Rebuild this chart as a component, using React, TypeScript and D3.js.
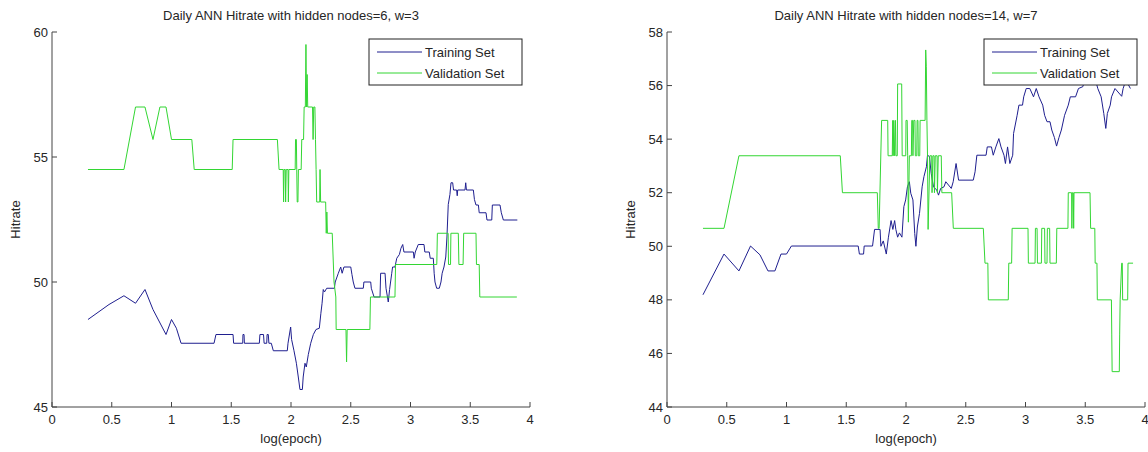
import React from "react";
import * as d3 from "d3";

type Pt = [number, number];

// ---------- Data (x = log(epoch), y = Hitrate) ----------
const xTicks = [0, 0.5, 1, 1.5, 2, 2.5, 3, 3.5, 4];
const leftYTicks = [45, 50, 55, 60];
const rightYTicks = [44, 46, 48, 50, 52, 54, 56, 58];
const seriesNames = ["Training Set", "Validation Set"];
const titles = [
  "Daily ANN Hitrate with hidden nodes=6, w=3",
  "Daily ANN Hitrate with hidden nodes=14, w=7",
];

const leftTraining: Pt[] = [
  [0.301, 48.5], [0.477, 49.1], [0.602, 49.45], [0.699, 49.15], [0.778, 49.7], [0.845, 48.9],
  [0.954, 47.9], [1.0, 48.5], [1.041, 48.15], [1.08, 47.55], [1.356, 47.55], [1.372, 47.9],
  [1.515, 47.9], [1.52, 47.55], [1.596, 47.55], [1.598, 47.9], [1.607, 47.9], [1.61, 47.55],
  [1.735, 47.55], [1.74, 47.9], [1.77, 47.9], [1.775, 47.55], [1.797, 47.55], [1.8, 47.9],
  [1.81, 47.9], [1.815, 47.55], [1.835, 47.55], [1.852, 47.25], [1.969, 47.25], [1.975, 47.55],
  [1.997, 48.2], [2.005, 47.7], [2.025, 47.25], [2.045, 46.75], [2.061, 46.2], [2.075, 45.7],
  [2.095, 45.7], [2.102, 46.2], [2.117, 46.75], [2.128, 46.6], [2.145, 47.1], [2.165, 47.55],
  [2.187, 47.9], [2.209, 48.1], [2.237, 48.15], [2.25, 48.75], [2.26, 49.15], [2.27, 49.7],
  [2.28, 49.6], [2.299, 49.75], [2.363, 49.75], [2.37, 50.0], [2.396, 50.35], [2.416, 50.6],
  [2.428, 50.35], [2.443, 50.6], [2.5, 50.6], [2.51, 50.3], [2.521, 50.0], [2.535, 49.75],
  [2.605, 49.75], [2.61, 50.0], [2.667, 50.0], [2.672, 49.75], [2.695, 49.4], [2.745, 49.4],
  [2.75, 50.35], [2.787, 50.35], [2.795, 49.75], [2.814, 49.2], [2.825, 49.7], [2.843, 50.35],
  [2.85, 50.6], [2.87, 50.6], [2.885, 50.95], [2.907, 51.1], [2.92, 51.35], [2.935, 51.5],
  [2.945, 51.2], [3.024, 51.2], [3.03, 50.95], [3.04, 51.2], [3.065, 51.5], [3.113, 51.5],
  [3.12, 51.2], [3.157, 51.2], [3.165, 50.95], [3.191, 50.95], [3.198, 50.35], [3.205, 50.0],
  [3.219, 49.75], [3.241, 49.75], [3.255, 50.0], [3.265, 50.35], [3.28, 50.6], [3.295, 51.0],
  [3.305, 51.8], [3.316, 53.1], [3.33, 53.5], [3.339, 53.97], [3.353, 53.97], [3.36, 53.68],
  [3.386, 53.68], [3.391, 53.45], [3.395, 53.68], [3.456, 53.68], [3.462, 53.97], [3.468, 53.68],
  [3.526, 53.68], [3.535, 53.3], [3.548, 53.08], [3.568, 53.08], [3.575, 52.77], [3.632, 52.77],
  [3.64, 52.48], [3.68, 52.48], [3.685, 53.08], [3.749, 53.08], [3.76, 52.77], [3.777, 52.48],
  [3.894, 52.48],
];

const leftValidation: Pt[] = [
  [0.301, 54.5], [0.602, 54.5], [0.699, 57], [0.778, 57], [0.845, 55.7], [0.903, 57],
  [0.954, 57], [1.0, 55.7], [1.17, 55.7], [1.19, 54.5], [1.508, 54.5], [1.515, 55.7],
  [1.886, 55.7], [1.9, 54.5], [1.935, 54.5], [1.938, 53.2], [1.942, 54.5], [1.952, 54.5],
  [1.955, 53.2], [1.96, 54.5], [1.975, 54.5], [1.978, 53.2], [1.982, 54.5], [2.035, 54.5],
  [2.038, 55.7], [2.045, 55.7], [2.048, 54.5], [2.052, 53.2], [2.058, 53.2], [2.062, 54.5],
  [2.085, 54.5], [2.09, 55.7], [2.105, 55.7], [2.11, 57], [2.12, 57], [2.125, 59.5],
  [2.13, 57], [2.135, 58.3], [2.14, 57], [2.18, 57], [2.185, 55.7], [2.19, 57], [2.2, 57],
  [2.205, 55.7], [2.21, 54.5], [2.215, 53.2], [2.24, 53.2], [2.243, 54.5], [2.248, 53.2],
  [2.29, 53.2], [2.295, 51.95], [2.3, 52.8], [2.305, 51.95], [2.345, 51.95], [2.36, 50.0],
  [2.375, 49.4], [2.378, 48.1], [2.46, 48.1], [2.465, 46.8], [2.47, 48.1], [2.66, 48.1],
  [2.665, 49.4], [2.87, 49.4], [2.875, 50.7], [3.22, 50.7], [3.225, 51.95], [3.315, 51.95],
  [3.318, 50.7], [3.335, 50.7], [3.338, 51.95], [3.4, 51.95], [3.405, 50.7], [3.44, 50.7],
  [3.445, 51.95], [3.548, 51.95], [3.552, 50.7], [3.575, 50.7], [3.58, 49.4], [3.89, 49.4],
];

const rightTraining: Pt[] = [
  [0.301, 48.19], [0.477, 49.71], [0.602, 49.08], [0.699, 50.01], [0.778, 49.68], [0.845, 49.08],
  [0.903, 49.08], [0.954, 49.71], [1.0, 49.71], [1.041, 50.01], [1.6, 50.01], [1.61, 49.71],
  [1.645, 49.71], [1.65, 50.01], [1.72, 50.01], [1.737, 50.63], [1.783, 50.63], [1.79, 50.0],
  [1.81, 50.2], [1.835, 49.71], [1.853, 50.34], [1.875, 50.96], [1.89, 50.63], [1.905, 50.96],
  [1.915, 50.63], [1.93, 50.34], [1.945, 50.5], [1.966, 50.34], [1.982, 51.48], [1.997, 51.73],
  [2.012, 52.22], [2.028, 52.41], [2.04, 51.98], [2.058, 51.73], [2.073, 50.48], [2.083, 50.0],
  [2.095, 50.72], [2.113, 51.23], [2.135, 52.22], [2.15, 52.6], [2.171, 52.97], [2.18, 53.4],
  [2.196, 53.35], [2.211, 52.72], [2.23, 52.22], [2.257, 52.1], [2.272, 51.91], [2.29, 52.16],
  [2.318, 52.22], [2.333, 52.41], [2.379, 52.16], [2.395, 52.41], [2.419, 53.09], [2.44, 52.47],
  [2.563, 52.47], [2.578, 52.78], [2.593, 53.4], [2.67, 53.4], [2.68, 53.71], [2.715, 53.71],
  [2.73, 53.4], [2.752, 53.71], [2.777, 54.02], [2.795, 53.71], [2.82, 53.4], [2.832, 53.09],
  [2.85, 53.71], [2.869, 53.09], [2.893, 53.4], [2.9, 54.21], [2.93, 54.89], [2.945, 55.27],
  [2.975, 55.27], [2.985, 55.58], [3.006, 55.89], [3.036, 55.89], [3.067, 55.58], [3.09, 55.89],
  [3.113, 55.58], [3.144, 55.27], [3.16, 54.89], [3.18, 54.65], [3.205, 54.65], [3.22, 54.34],
  [3.242, 54.06], [3.26, 53.74], [3.28, 54.06], [3.3, 54.34], [3.327, 54.89], [3.358, 55.27],
  [3.375, 55.58], [3.419, 55.58], [3.443, 55.89], [3.48, 55.96], [3.5, 56.3], [3.58, 56.3],
  [3.605, 55.89], [3.633, 55.58], [3.655, 54.96], [3.672, 54.4], [3.685, 54.96], [3.709, 55.27],
  [3.72, 55.58], [3.749, 55.89], [3.805, 55.6], [3.817, 55.89], [3.84, 56.2], [3.878, 55.89],
];

const rightValidation: Pt[] = [
  [0.301, 50.67], [0.477, 50.67], [0.602, 53.38], [1.45, 53.38], [1.468, 52.0], [1.76, 52.0],
  [1.768, 50.67], [1.775, 50.67], [1.796, 54.7], [1.847, 54.7], [1.85, 53.38], [1.885, 53.38],
  [1.889, 54.7], [1.893, 53.38], [1.898, 54.7], [1.905, 53.38], [1.912, 54.7], [1.916, 53.38],
  [1.927, 53.38], [1.93, 56.06], [1.964, 56.06], [1.968, 53.38], [1.998, 53.38], [2.0, 54.7],
  [2.01, 54.7], [2.014, 53.38], [2.02, 50.9], [2.028, 53.38], [2.045, 53.38], [2.048, 54.7],
  [2.055, 54.7], [2.058, 53.38], [2.065, 54.7], [2.075, 54.7], [2.078, 53.38], [2.09, 53.38],
  [2.093, 54.7], [2.1, 54.7], [2.103, 53.38], [2.115, 53.38], [2.118, 54.7], [2.16, 54.7],
  [2.165, 57.33], [2.17, 56.7], [2.175, 54.7], [2.18, 53.38], [2.185, 50.63], [2.2, 53.38],
  [2.215, 53.38], [2.218, 52.0], [2.225, 53.38], [2.235, 53.38], [2.238, 52.0], [2.245, 53.38],
  [2.26, 53.38], [2.263, 52.0], [2.27, 53.38], [2.295, 53.38], [2.3, 52.0], [2.382, 52.0],
  [2.396, 50.67], [2.647, 50.67], [2.661, 49.37], [2.685, 49.37], [2.689, 48.0], [2.856, 48.0],
  [2.86, 49.37], [2.884, 49.37], [2.888, 50.67], [3.021, 50.67], [3.024, 49.37], [3.08, 49.37],
  [3.083, 50.67], [3.097, 50.67], [3.1, 49.37], [3.133, 49.37], [3.136, 50.67], [3.16, 50.67],
  [3.163, 49.37], [3.18, 49.37], [3.183, 50.67], [3.202, 50.67], [3.205, 49.37], [3.258, 49.37],
  [3.262, 50.67], [3.355, 50.67], [3.358, 52.0], [3.386, 52.0], [3.388, 50.67], [3.392, 52.0],
  [3.4, 52.0], [3.403, 50.67], [3.406, 52.0], [3.54, 52.0], [3.545, 50.67], [3.58, 50.67],
  [3.583, 49.37], [3.598, 49.37], [3.601, 48.0], [3.719, 48.0], [3.722, 46.69], [3.725, 45.32],
  [3.785, 45.32], [3.788, 46.69], [3.792, 48.0], [3.805, 49.37], [3.81, 49.37], [3.813, 48.0],
  [3.855, 48.0], [3.858, 49.37], [3.9, 49.37],
];

// ---------- Styling ----------
const FONT = "'Liberation Sans', Arial, Helvetica, sans-serif";
const BLUE = "#1f1f8f";
const GREEN = "#33d633";
const TEXT = "#262626";
const FS = 13;

type PanelProps = {
  left: number;
  right: number;
  top: number;
  bottom: number;
  yDomain: [number, number];
  yTicks: number[];
  title: string;
  training: Pt[];
  validation: Pt[];
};

function Panel(p: PanelProps) {
  const x = d3.scaleLinear().domain([0, 4]).range([p.left, p.right]);
  const y = d3.scaleLinear().domain(p.yDomain).range([p.bottom, p.top]);
  const line = d3
    .line<Pt>()
    .x((d) => x(d[0]))
    .y((d) => y(d[1]));
  const cx = (p.left + p.right) / 2;
  const cy = (p.top + p.bottom) / 2;
  const lgW = 153;
  const lgH = 46;
  const lgX = p.right - 8 - lgW;
  const lgY = p.top + 7;
  const tick = 5;
  return (
    <g>
      <text x={cx} y={p.top - 12} textAnchor="middle" fontSize={FS} fill={TEXT} fontFamily={FONT}>
        {p.title}
      </text>
      <path d={line(p.training) || ""} fill="none" stroke={BLUE} strokeWidth={1} />
      <path d={line(p.validation) || ""} fill="none" stroke={GREEN} strokeWidth={1} />
      {/* axes */}
      <line x1={p.left} x2={p.left} y1={p.top} y2={p.bottom} stroke="#444" strokeWidth={1} />
      <line x1={p.left} x2={p.right} y1={p.bottom} y2={p.bottom} stroke="#444" strokeWidth={1} />
      {xTicks.map((t) => (
        <g key={"x" + t}>
          <line x1={x(t)} x2={x(t)} y1={p.bottom} y2={p.bottom - tick} stroke="#444" />
          <text x={x(t)} y={p.bottom + 17} textAnchor="middle" fontSize={FS} fill={TEXT} fontFamily={FONT}>
            {t}
          </text>
        </g>
      ))}
      {p.yTicks.map((t) => (
        <g key={"y" + t}>
          <line x1={p.left} x2={p.left + tick} y1={y(t)} y2={y(t)} stroke="#444" />
          <text x={p.left - 4} y={y(t) + 4.5} textAnchor="end" fontSize={FS} fill={TEXT} fontFamily={FONT}>
            {t}
          </text>
        </g>
      ))}
      <text x={cx} y={p.bottom + 36} textAnchor="middle" fontSize={FS} fill={TEXT} fontFamily={FONT}>
        log(epoch)
      </text>
      <text
        transform={`translate(${p.left - 32},${cy}) rotate(-90)`}
        textAnchor="middle"
        fontSize={FS}
        fill={TEXT}
        fontFamily={FONT}
      >
        Hitrate
      </text>
      {/* legend */}
      <rect x={lgX} y={lgY} width={lgW} height={lgH} fill="#fff" stroke="#222" strokeWidth={1} />
      {seriesNames.map((n, i) => (
        <g key={n}>
          <line
            x1={lgX + 8}
            x2={lgX + 53}
            y1={lgY + 13 + i * 21}
            y2={lgY + 13 + i * 21}
            stroke={i === 0 ? BLUE : GREEN}
          />
          <text x={lgX + 56} y={lgY + 18 + i * 21} fontSize={FS} fill={TEXT} fontFamily={FONT}>
            {n}
          </text>
        </g>
      ))}
    </g>
  );
}

export default function App() {
  return (
    <svg
      width={1148}
      height={452}
      style={{ position: "fixed", left: 0, top: 0, background: "#fff" }}
    >
      <rect x={0} y={0} width={1148} height={452} fill="#fff" />
      <Panel
        left={52}
        right={530}
        top={32}
        bottom={407}
        yDomain={[45, 60]}
        yTicks={leftYTicks}
        title={titles[0]}
        training={leftTraining}
        validation={leftValidation}
      />
      <Panel
        left={667}
        right={1145}
        top={32}
        bottom={407}
        yDomain={[44, 58]}
        yTicks={rightYTicks}
        title={titles[1]}
        training={rightTraining}
        validation={rightValidation}
      />
    </svg>
  );
}
